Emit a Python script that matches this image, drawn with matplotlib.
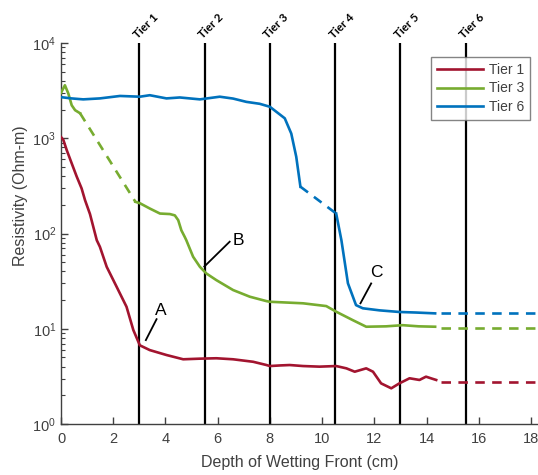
import matplotlib
matplotlib.use("Agg")
import matplotlib.pyplot as plt
from matplotlib.ticker import LogLocator, NullFormatter

plt.rcParams['font.family'] = ['Liberation Sans', 'DejaVu Sans']

# ---- measured resistivity profiles (depth in cm, resistivity in Ohm-m) ----
tier1_x = [0.0, 0.09, 0.22, 0.41, 0.60, 0.79, 0.92, 1.11, 1.37, 1.49, 1.75, 2.13,
           2.51, 2.77, 3.02, 3.40, 4.04, 4.68, 5.30, 5.95, 6.59, 7.36, 7.87, 8.00,
           8.40, 8.76, 9.27, 9.90, 10.54, 10.93, 11.25, 11.69, 11.95, 12.26, 12.65,
           12.96, 13.35, 13.73, 13.98, 14.20, 14.37]
tier1_y = [1030, 960, 750, 545, 397, 297, 224, 160, 85, 72.5, 44.7, 27.6,
           17.0, 9.7, 6.7, 5.97, 5.3, 4.78, 4.85, 4.9, 4.78, 4.5, 4.16, 4.06,
           4.12, 4.16, 4.06, 4.0, 4.06, 3.84, 3.54, 3.84, 3.54, 2.67, 2.37,
           2.67, 3.02, 2.9, 3.14, 3.0, 2.9]

tier3_early_x = [0.0, 0.15, 0.28, 0.41, 0.54, 0.73]
tier3_early_y = [3000, 3600, 2950, 2220, 1970, 1830]
tier3_x = [2.85, 3.02, 3.40, 3.79, 4.17, 4.36, 4.49, 4.61, 4.74, 4.80, 5.06, 5.32,
           5.57, 5.95, 6.59, 7.23, 7.87, 8.00, 9.27, 10.16, 10.54, 11.18, 11.69,
           12.45, 13.09, 13.70, 14.33]
tier3_y = [215, 208, 183, 162, 160, 155, 138, 108, 92, 85, 57, 44.7,
           38, 32.4, 25.5, 21.7, 19.5, 19.2, 18.5, 17.3, 15.1, 12.3, 10.5,
           10.6, 10.9, 10.6, 10.5]

tier6_early_x = [0.0, 0.40, 0.85, 1.49, 2.26, 3.02, 3.40, 4.04, 4.55, 5.32, 6.08,
                 6.59, 7.10, 7.61, 8.00, 8.57, 8.82, 9.01, 9.17]
tier6_early_y = [2700, 2620, 2560, 2620, 2780, 2730, 2830, 2620, 2680, 2560, 2730,
                 2610, 2410, 2300, 2140, 1620, 1120, 640, 310]
tier6_x = [10.54, 10.74, 10.99, 11.30, 11.56, 12.20, 12.96, 13.60, 14.33]
tier6_y = [162, 85, 30, 17.7, 16.4, 15.6, 15.0, 14.8, 14.5]

# extrapolated plateau levels beyond the last measurement
tail_start = 14.55
tier1_tail = 2.78
tier3_tail = 10.3
tier6_tail = 14.5

tier_positions = [3.0, 5.5, 8.0, 10.5, 13.0, 15.5]
tier_labels = ["Tier 1", "Tier 2", "Tier 3", "Tier 4", "Tier 5", "Tier 6"]

annotations = [
    ("A", (3.25, 7.6), (3.66, 12.6), (3.81, 15.7)),
    ("B", (5.49, 45.0), (6.46, 82.0), (6.80, 85.0)),
    ("C", (11.47, 18.5), (11.88, 29.9), (12.08, 38.5)),
]

red = "#A2142F"
green = "#77AC30"
blue = "#0072BD"
axis_gray = "#404040"

x_max = 18.27

fig = plt.figure(figsize=(5.38, 4.75), dpi=100)
ax = fig.add_axes([61 / 538, 1 - 424 / 475, 1 - 61 / 538, (424 - 43) / 475])

lw = 1.9
dash = (3.6, 2.8)

# tier boundaries
for xp in tier_positions:
    ax.plot([xp, xp], [1, 1e4], color="black", lw=1.6, zorder=2)

# curves
l1, = ax.plot(tier1_x, tier1_y, color=red, lw=lw, zorder=3, label="Tier 1")
l3, = ax.plot(tier3_early_x, tier3_early_y, color=green, lw=lw, zorder=3, label="Tier 3")
ax.plot(tier3_x, tier3_y, color=green, lw=lw, zorder=3)
l6, = ax.plot(tier6_early_x, tier6_early_y, color=blue, lw=lw, zorder=3, label="Tier 6")
ax.plot(tier6_x, tier6_y, color=blue, lw=lw, zorder=3)

# dashed gaps
ax.plot([tier3_early_x[-1], tier3_x[0]], [tier3_early_y[-1], tier3_y[0]],
        color=green, lw=lw, dashes=dash, zorder=3)
ax.plot([tier6_early_x[-1], tier6_x[0]], [tier6_early_y[-1], tier6_y[0]],
        color=blue, lw=lw, dashes=dash, zorder=3)

# dashed tails
for level, col in [(tier1_tail, red), (tier3_tail, green), (tier6_tail, blue)]:
    ax.plot([tail_start, x_max], [level, level], color=col, lw=lw, dashes=dash, zorder=3)

# callouts
for letter, p0, p1, pt in annotations:
    ax.plot([p0[0], p1[0]], [p0[1], p1[1]], color="black", lw=1.3, zorder=4)
    ax.text(pt[0], pt[1], letter, fontsize=12.5, ha="center", va="center",
            color="black", zorder=5)

ax.set_yscale("log")
ax.set_ylim(1, 1e4)
ax.set_xlim(0, x_max)
ax.set_xticks(range(0, 19, 2))
ax.yaxis.set_major_locator(LogLocator(base=10, numticks=10))
ax.yaxis.set_minor_locator(LogLocator(base=10, subs=range(2, 10), numticks=10))
ax.yaxis.set_minor_formatter(NullFormatter())

for side in ("top", "right"):
    ax.spines[side].set_visible(False)
for side in ("left", "bottom"):
    ax.spines[side].set_color(axis_gray)
    ax.spines[side].set_linewidth(1.0)

ax.tick_params(axis="both", which="both", direction="in", colors=axis_gray,
               labelcolor=axis_gray, labelsize=10.5)
ax.tick_params(axis="both", which="major", length=5, width=1.0)
ax.tick_params(axis="y", which="minor", length=3, width=0.8)
ax.tick_params(axis="x", pad=6)

ax.set_xlabel("Depth of Wetting Front (cm)", fontsize=11.5, color=axis_gray, labelpad=6)
ax.set_ylabel("Resistivity (Ohm-m)", fontsize=11.5, color=axis_gray)
ax.yaxis.set_label_coords(-0.07, 0.6)

# tier labels above the plot
for xp, lab in zip(tier_positions, tier_labels):
    ax.annotate(lab, xy=(xp, 1e4), xycoords="data", xytext=(0, 2),
                textcoords="offset points", rotation=45, rotation_mode="anchor",
                ha="left", va="bottom", fontsize=8.3, fontweight="bold",
                family=["Lato", "DejaVu Sans"], color="black", annotation_clip=False)

leg = ax.legend(handles=[l1, l3, l6], loc="upper left",
                bbox_to_anchor=(431 / 538, 1 - 57 / 475), bbox_transform=fig.transFigure,
                fontsize=10, frameon=True, fancybox=False, handlelength=3.3,
                handletextpad=0.4, borderpad=0.45, labelspacing=0.3,
                borderaxespad=0)
leg.get_frame().set_edgecolor("#666666")
leg.get_frame().set_linewidth(1.0)
for t in leg.get_texts():
    t.set_color(axis_gray)

fig.savefig("out.png", dpi=100)
